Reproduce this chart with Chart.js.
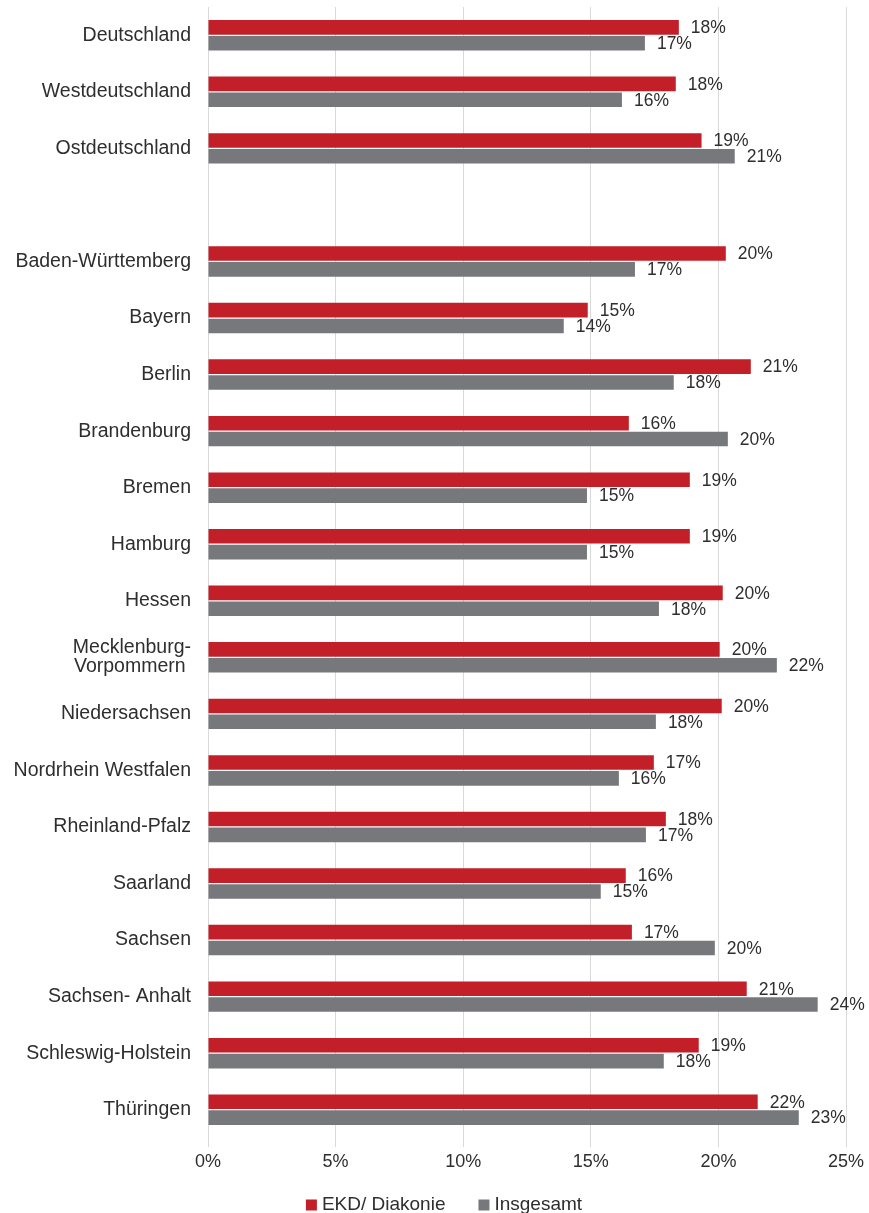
<!DOCTYPE html>
<html lang="de">
<head>
<meta charset="utf-8">
<title>EKD/ Diakonie – Insgesamt nach Ländern</title>
<script src="https://cdn.jsdelivr.net/npm/chart.js@4.4.1/dist/chart.umd.min.js"></script>
<style>
  html, body { margin: 0; padding: 0; background: #fff; }
  #wrap { width: 869px; height: 1213px; position: relative; }
</style>
</head>
<body>
<div id="wrap"><canvas id="chart"></canvas></div>
<script>
// categories; the empty entry leaves a gap after the East/West totals
const categories = [
  "Deutschland", "Westdeutschland", "Ostdeutschland", "",
  "Baden-Württemberg", "Bayern", "Berlin", "Brandenburg", "Bremen",
  "Hamburg", "Hessen", ["Mecklenburg-", "Vorpommern "], "Niedersachsen",
  "Nordrhein Westfalen", "Rheinland-Pfalz", "Saarland", "Sachsen",
  "Sachsen- Anhalt", "Schleswig-Holstein", "Thüringen"
];

// shares in percent
const ekdValues = [
  18.45, 18.33, 19.34, null,
  20.29, 14.88, 21.27, 16.49, 18.88,
  18.88, 20.17, 20.05, 20.13,
  17.47, 17.94, 16.37, 16.61,
  21.11, 19.23, 21.54
];
const totalValues = [
  17.12, 16.22, 20.64, null,
  16.73, 13.94, 18.25, 20.37, 14.85,
  14.85, 17.67, 22.29, 17.55,
  16.10, 17.16, 15.39, 19.86,
  23.89, 17.86, 23.15
];

const xTicks = [0, 5, 10, 15, 20, 25];
const seriesNames = ["EKD/ Diakonie", "Insgesamt"];
const seriesColors = ["#c21f29", "#77787c"];

const FONT = "'Liberation Sans', Arial, sans-serif";
const textColor = "#2e2e2e";
const gridColor = "#d9d9d9";

// percentage next to the end of each bar
const valueLabels = {
  id: "valueLabels",
  afterDatasetsDraw(chart) {
    const ctx = chart.ctx;
    ctx.save();
    ctx.font = "17.5px " + FONT;
    ctx.fillStyle = textColor;
    ctx.textAlign = "left";
    ctx.textBaseline = "middle";
    chart.data.datasets.forEach((ds, i) => {
      chart.getDatasetMeta(i).data.forEach((bar, j) => {
        const v = ds.data[j];
        if (v === null || v === undefined) return;
        ctx.fillText(Math.round(v) + "%", bar.x + 12, bar.y + 1);
      });
    });
    ctx.restore();
  }
};

// small square-marker legend under the axis
const bottomLegend = {
  id: "bottomLegend",
  afterDraw(chart) {
    const ctx = chart.ctx;
    const box = 11, gap = 5, spacing = 33;
    ctx.save();
    ctx.font = "19px " + FONT;
    ctx.textBaseline = "middle";
    ctx.textAlign = "left";
    const items = chart.data.datasets.map(ds => ({
      text: ds.label, color: ds.backgroundColor, w: ctx.measureText(ds.label).width
    }));
    let total = 0;
    items.forEach((it, i) => { total += box + gap + it.w + (i ? spacing : 0); });
    let x = 444 - total / 2;
    const y = 1205;
    items.forEach(it => {
      ctx.fillStyle = it.color;
      ctx.fillRect(x, y - box / 2, box, box);
      ctx.fillStyle = textColor;
      ctx.fillText(it.text, x + box + gap, y);
      x += box + gap + it.w + spacing;
    });
    ctx.restore();
  }
};

new Chart(document.getElementById("chart"), {
  type: "bar",
  data: {
    labels: categories,
    datasets: [
      { label: seriesNames[0], data: ekdValues, backgroundColor: seriesColors[0] },
      { label: seriesNames[1], data: totalValues, backgroundColor: seriesColors[1] }
    ]
  },
  options: {
    indexAxis: "y",
    responsive: true,
    maintainAspectRatio: false,
    animation: false,
    datasets: {
      bar: { categoryPercentage: 0.56, barPercentage: 0.92 }
    },
    layout: { padding: { top: 7, right: 23, bottom: 40, left: 0 } },
    plugins: {
      legend: { display: false },
      tooltip: { enabled: false }
    },
    scales: {
      x: {
        min: 0,
        max: 25,
        afterBuildTicks(scale) {
          scale.ticks = xTicks.map(v => ({ value: v }));
        },
        ticks: {
          callback: v => v + "%",
          color: textColor,
          font: { family: FONT, size: 18 },
          padding: 4,
          maxRotation: 0
        },
        grid: {
          color: gridColor,
          lineWidth: 1,
          drawTicks: true,
          tickLength: 9,
          tickColor: gridColor
        },
        border: { display: false },
        afterFit(scale) {
          scale.height = 35;
          scale.paddingLeft = 0;
          scale.paddingRight = 0;
        }
      },
      y: {
        grid: { display: false, drawTicks: false },
        border: { display: false },
        ticks: {
          autoSkip: false,
          color: textColor,
          font: { family: FONT, size: 19.5, lineHeight: 0.95 },
          padding: 17
        },
        afterFit(scale) {
          scale.width = 208;
          scale.paddingTop = 0;
          scale.paddingBottom = 0;
        }
      }
    }
  },
  plugins: [valueLabels, bottomLegend]
});
</script>
</body>
</html>
